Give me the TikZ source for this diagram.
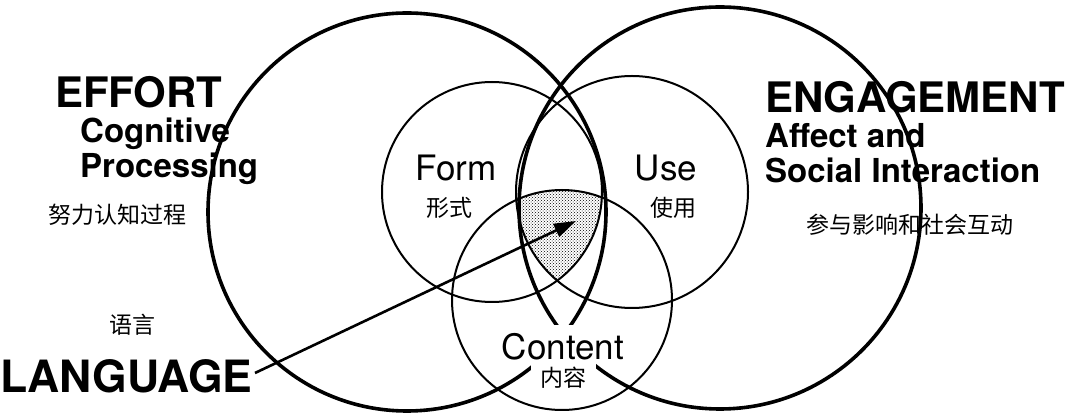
\documentclass[tikz,border=0pt]{standalone}
\usepackage{fontspec}
\setmainfont{TeX Gyre Heros}
\newfontfamily\cjk{Noto Sans CJK SC}
\usetikzlibrary{patterns,arrows.meta}
\begin{document}
\begin{tikzpicture}[x=1pt,y=1pt,
  big/.style={line width=3.6pt},
  small/.style={line width=2pt},
  hd/.style={font=\bfseries\fontsize{42}{42}\selectfont, inner sep=0pt, anchor=base west},
  sub/.style={font=\bfseries\fontsize{33}{33}\selectfont, inner sep=0pt, anchor=base west},
  lab/.style={font=\fontsize{35}{35}\selectfont, inner sep=0pt},
  zh/.style={font=\cjk\fontsize{23}{23}\selectfont, inner sep=0pt}]
\useasboundingbox (0,0) rectangle (1080,415);
\fill[white] (0,0) rectangle (1080,415);
% big circles
\draw[big] (407,203) circle (199);
\draw[big] (720,207) circle (201);
\fill[white] (531,22) rectangle (596,90);
% shaded
\begin{scope}
\clip (492,223) circle (110);
\clip (632,223) circle (116);
\fill[pattern=crosshatch dots] (562,115) circle (110);
\end{scope}
\draw[small] (492,223) circle (110);
\draw[small] (632,223) circle (116);
\draw[small] (562,115) circle (110);
% labels
\node[lab] (form) at (456,247) {Form};
\node[zh] (formz) at (449,207) {形式};
\node[lab] (use) at (666,247) {Use};
\node[zh] (usez) at (673,207) {使用};
\node[lab] (content) at (563,68) {Content};
\node[zh] (contentz) at (563,37) {内容};
\node[hd] (effort) at (55,307) {EFFORT};
\node[sub] (cog) at (80,272) {Cognitive};
\node[sub] (proc) at (80,237) {Processing};
\node[zh,anchor=west] (effz) at (48,200) {努力认知过程};
\node[zh] (yy) at (132,90) {语言};
\node[hd,font=\bfseries\fontsize{44.5}{44.5}\selectfont] (lang) at (0,22) {LANGUAGE};
\node[hd] (eng) at (765,302) {ENGAGEMENT};
\node[sub] (aff) at (765,267) {Affect and};
\node[sub] (soc) at (765,232) {Social Interaction};
\node[zh,anchor=west] (engz) at (806,190) {参与影响和社会互动};
\coordinate (tip) at (576,194);
\coordinate (start) at (255,42);
\draw[line width=2.6pt,-{Triangle[length=22pt,width=14pt]}] (start) -- (tip);
\end{tikzpicture}
\end{document}
